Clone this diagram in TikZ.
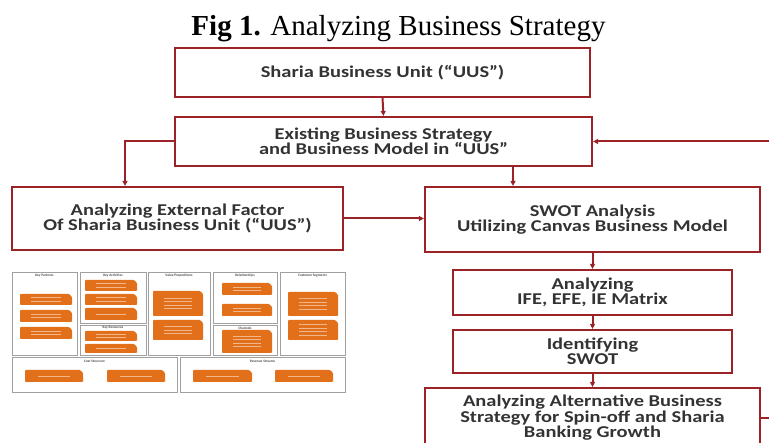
\documentclass[tikz,border=0pt]{standalone}
\usepackage{fontspec}
\setmainfont{Carlito}
\newfontfamily\boxfont[FakeStretch=1.24]{Carlito}
\newfontfamily\titlefont{Liberation Serif}
\usetikzlibrary{arrows.meta}
\definecolor{boxred}{HTML}{9B2328}
\definecolor{txt}{HTML}{333333}
\definecolor{notecol}{HTML}{E2701A}
\definecolor{cgray}{HTML}{A0A0A0}
\newcommand\stickynote[5]{%
  \fill[notecol, rounded corners=0.8pt] (#1,#2) -- (#3-3,#2) -- (#3,#2+3) -- (#3,#4) -- (#1,#4) -- cycle;
  \foreach \k in {1,...,#5}{%
    \draw[white, opacity=0.5, line width=0.9pt]
      ({#1+0.22*(#3-#1)},{(#2+#4)/2+(\k-(#5+1)/2)*3.6}) -- ({#3-0.22*(#3-#1)},{(#2+#4)/2+(\k-(#5+1)/2)*3.6});
  }}
\begin{document}
\begin{tikzpicture}[x=1pt,y=-1pt,
  blk/.style={draw=boxred, line width=2.2pt, text=txt, align=center, inner sep=0pt,
    font=\boxfont\fontsize{16.5}{15.5}\selectfont\bfseries},
  conn/.style={draw=boxred, line width=2pt, -{Triangle[length=5pt,width=5pt]}},
  cell/.style={draw=cgray, line width=0.8pt, fill=white},
  hdr/.style={text=black!70, font=\fontsize{3.5}{4}\selectfont\bfseries, inner sep=0pt},
]
\useasboundingbox (0,0) rectangle (769,443);
\clip (0,0) rectangle (769,443);

% title
\node[anchor=base, inner sep=0pt] (title) at (398.5,36)
  {\titlefont\fontsize{29}{29}\selectfont\textbf{Fig 1.} Analyzing Business Strategy};

% boxes
\node[blk, minimum width=415pt, minimum height=49pt] (b1) at (382.5,72.5)
  {Sharia Business Unit (“UUS”)};
\node[blk, minimum width=417pt, minimum height=49pt] (b2) at (383.5,141.5)
  {Existing Business Strategy\\and Business Model in “UUS”};
\node[blk, minimum width=331pt, minimum height=63pt] (b3) at (177.5,218.5)
  {Analyzing External Factor\\Of Sharia Business Unit (“UUS”)};
\node[blk, minimum width=335pt, minimum height=65pt] (b4) at (592.5,219.5)
  {SWOT Analysis\\Utilizing Canvas Business Model};
\node[blk, minimum width=279pt, minimum height=45pt] (b5) at (592.5,292.5)
  {Analyzing\\IFE, EFE, IE Matrix};
\node[blk, minimum width=279pt, minimum height=43pt] (b6) at (592.5,351.5)
  {Identifying\\SWOT};
\node[blk, minimum width=335pt, minimum height=60pt] (b7) at (592.5,418)
  {Analyzing Alternative Business\\Strategy for Spin-off and Sharia\\Banking Growth};

% connectors
\draw[conn] (b1.south) -- (b2.north);
\draw[conn] (b2.west) -| ([xshift=-52.5pt]b3.north);
\draw[conn] ([xshift=129.5pt]b2.south) -- ([xshift=129.5pt]b2.south |- b4.north);
\draw[conn] (b3.east) -- (b3.east -| b4.west);
\draw[conn] (b4.south) -- (b5.north);
\draw[conn] (b5.south) -- (b6.north);
\draw[conn] (b6.south) -- (b7.north);
\coordinate (loop) at (800,420);
\draw[conn] (b7.east) -- (b7.east -| loop) |- (b2.east);

% business model canvas thumbnail
\draw[cell] (12,272) rectangle (77,355);
\draw[cell] (80,272) rectangle (146,323);
\draw[cell] (80,325) rectangle (146,355);
\draw[cell] (148,272) rectangle (210,355);
\draw[cell] (213,272) rectangle (277,323);
\draw[cell] (213,325) rectangle (277,355);
\draw[cell] (280,272) rectangle (345,355);
\draw[cell] (12,357) rectangle (177,392);
\draw[cell] (180,357) rectangle (345,392);

\node[hdr] (hkp) at (44.5,276) {Key Partners};
\node[hdr] (hka) at (113,276) {Key Activities};
\node[hdr] (hkr) at (113,328) {Key Resources};
\node[hdr] (hvp) at (179,276) {Value Propositions};
\node[hdr] (hcr) at (245,276) {Relationships};
\node[hdr] (hch) at (245,328) {Channels};
\node[hdr] (hcs) at (312.5,276) {Customer Segments};
\node[hdr] (hcost) at (94.5,361) {Cost Structure};
\node[hdr] (hrev) at (262.5,361) {Revenue Streams};

\stickynote{20}{294}{72}{305}{2}
\stickynote{20}{310}{72}{322}{2}
\stickynote{20}{327}{72}{339}{2}
\stickynote{85}{280}{137}{291}{2}
\stickynote{85}{294}{137}{305}{2}
\stickynote{85}{308}{137}{320}{1}
\stickynote{85}{331}{137}{341}{2}
\stickynote{85}{344}{137}{353}{1}
\stickynote{153}{291}{203}{316}{4}
\stickynote{153}{320}{203}{340}{3}
\stickynote{222}{283}{272}{295}{2}
\stickynote{222}{304}{272}{316}{2}
\stickynote{222}{330}{272}{353}{4}
\stickynote{288}{292}{338}{316}{4}
\stickynote{288}{320}{338}{340}{4}
\stickynote{25}{370}{83}{382}{1}
\stickynote{107}{370}{165}{382}{1}
\stickynote{193}{370}{252}{382}{1}
\stickynote{275}{370}{333}{382}{1}
\end{tikzpicture}
\end{document}
